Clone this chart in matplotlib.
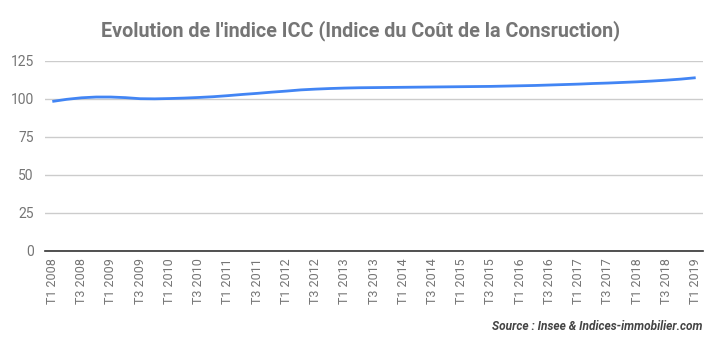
import matplotlib
matplotlib.use("Agg")
import matplotlib.pyplot as plt

plt.rcParams['font.family'] = ['Roboto', 'DejaVu Sans']

# trimestres T1 2008 -> T1 2019
annees = list(range(2008, 2020))
trimestres = []
for a in annees:
    for t in range(1, 5):
        trimestres.append("T%d %d" % (t, a))
trimestres = trimestres[:45]

# valeurs (base ~100)
icc = [98.4, 99.8, 100.8, 101.3, 101.3, 100.9, 100.2, 100.1, 100.3, 100.6,
       101.0, 101.5, 102.2, 103.0, 103.7, 104.5, 105.2, 106.0, 106.5, 106.9,
       107.2, 107.4, 107.5, 107.6, 107.7, 107.8, 107.9, 108.0, 108.1, 108.2,
       108.3, 108.5, 108.7, 108.9, 109.2, 109.5, 109.8, 110.2, 110.5, 110.9,
       111.3, 111.8, 112.4, 113.1, 114.0]

y_ticks = [0, 25, 50, 75, 100, 125]

fig = plt.figure(figsize=(7.21, 3.53), dpi=100)
ax = fig.add_axes([45/721, (353-251)/353, (703-45)/721, (251-61)/353])

x = list(range(len(icc)))
ax.plot(x, icc, color="#4285F4", linewidth=2, solid_capstyle="butt")

ax.set_xlim(-0.5, len(icc) - 0.5)
ax.set_ylim(0, 125)
ax.set_yticks(y_ticks)
ax.set_xticks(x[::2])
ax.set_xticklabels(trimestres[::2], rotation=90, fontsize=9, color="#757575")
ax.tick_params(axis="y", labelsize=10, labelcolor="#757575", length=0, pad=8)
ax.tick_params(axis="x", length=0, pad=5)
ax.grid(axis="y", color="#cccccc", linewidth=1)
ax.set_axisbelow(True)
for s in ["top", "right", "left"]:
    ax.spines[s].set_visible(False)
ax.spines["bottom"].set_color("#333333")
ax.spines["bottom"].set_linewidth(1.2)

fig.text(0.5, 1 - 31/353, "Evolution de l'indice ICC (Indice du Coût de la Consruction)",
         ha="center", va="center", fontsize=14.2, fontweight="bold", color="#757575")
fig.text(703/721, 1 - 327/353, "Source : Insee & Indices-immobilier.com",
         ha="right", va="center", fontsize=8.6, fontweight="bold", style="italic", color="#444444")

fig.savefig("out.png", dpi=100)
